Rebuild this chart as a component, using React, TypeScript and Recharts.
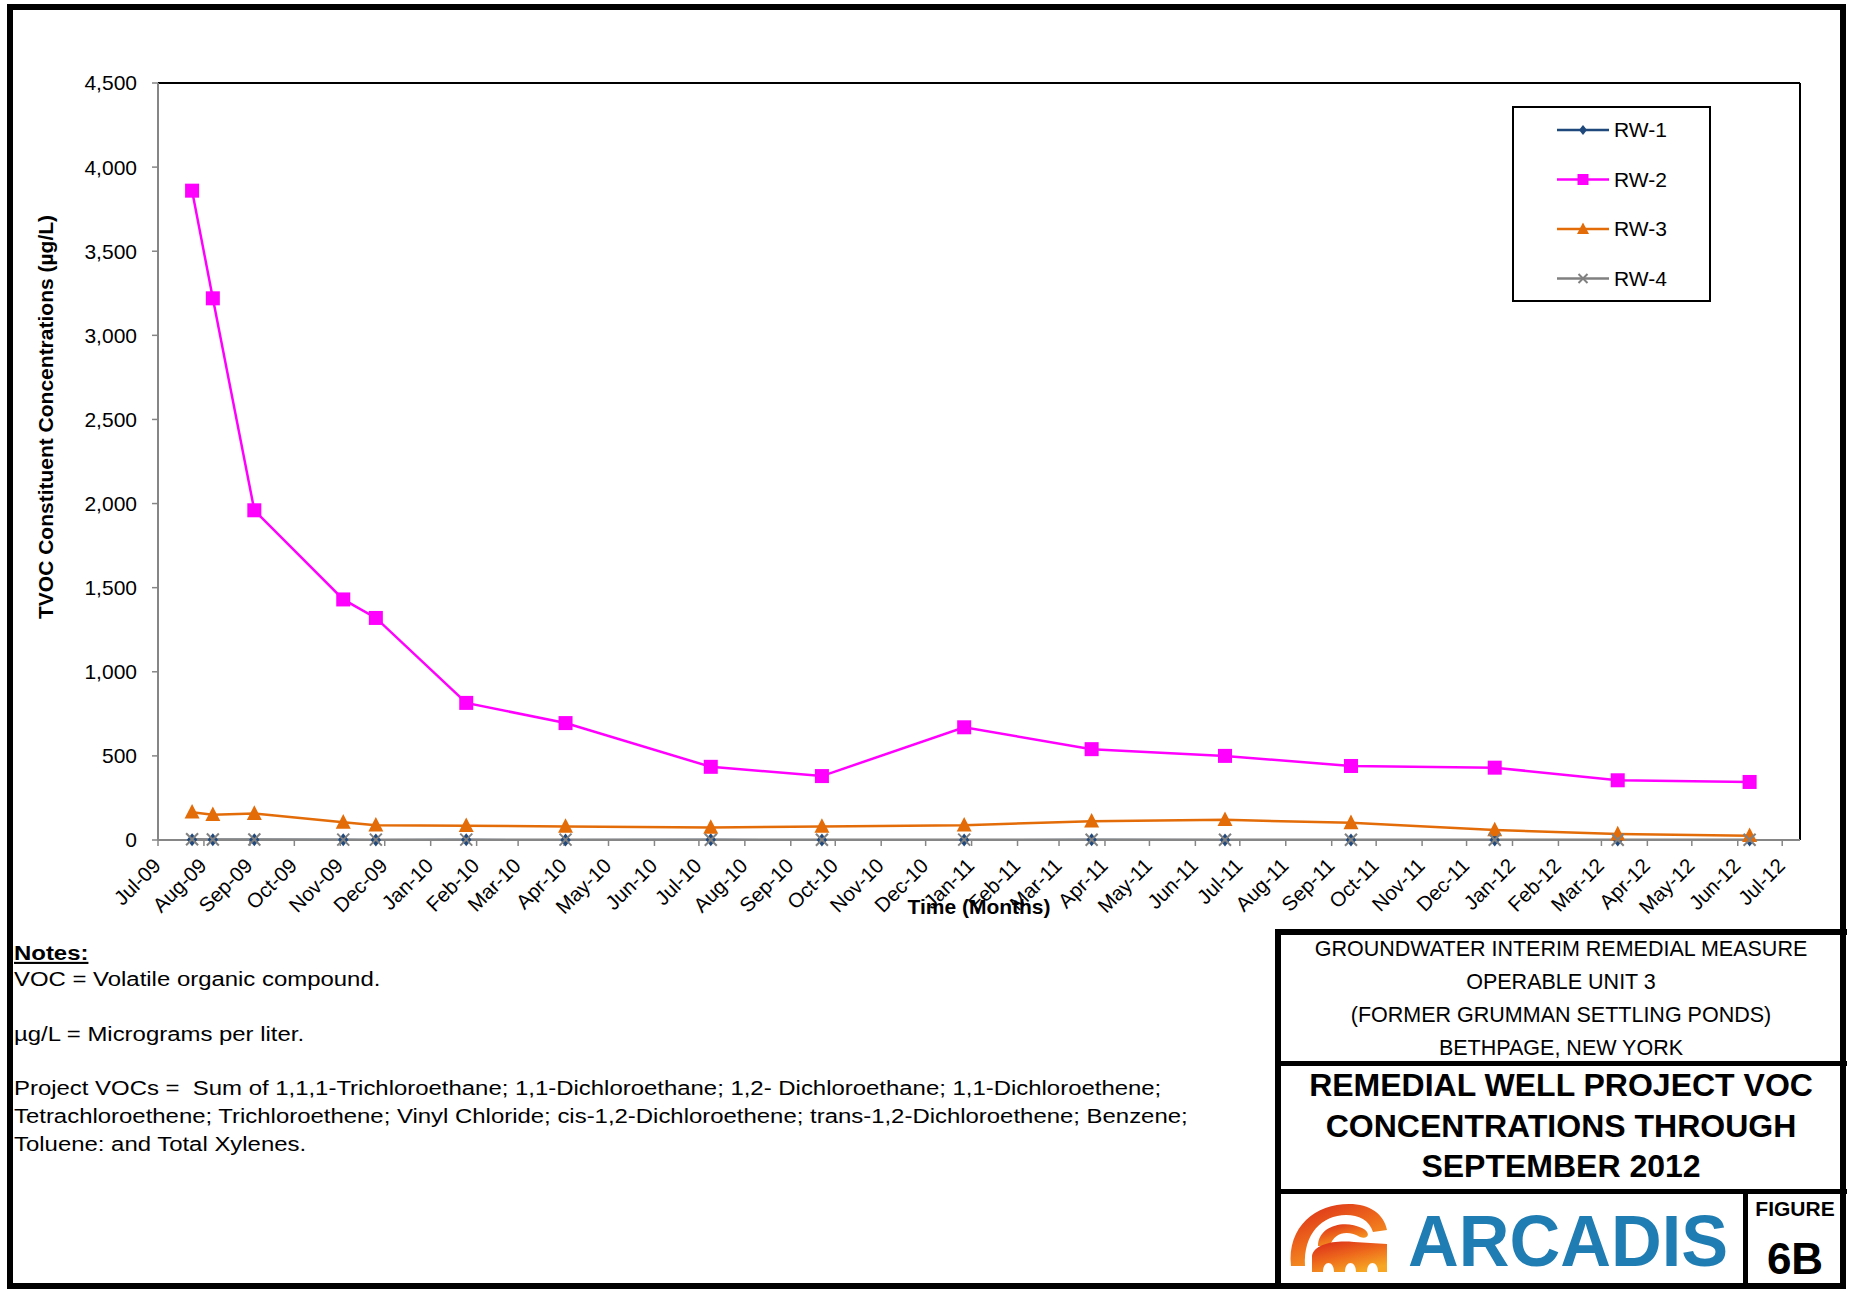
import React from 'react';
import { LineChart, Line, XAxis, YAxis, ReferenceLine } from 'recharts';

// tick labels of the date axis (one per month start)
const monthLabels = [
  'Jul-09', 'Aug-09', 'Sep-09', 'Oct-09', 'Nov-09', 'Dec-09',
  'Jan-10', 'Feb-10', 'Mar-10', 'Apr-10', 'May-10', 'Jun-10',
  'Jul-10', 'Aug-10', 'Sep-10', 'Oct-10', 'Nov-10', 'Dec-10',
  'Jan-11', 'Feb-11', 'Mar-11', 'Apr-11', 'May-11', 'Jun-11',
  'Jul-11', 'Aug-11', 'Sep-11', 'Oct-11', 'Nov-11', 'Dec-11',
  'Jan-12', 'Feb-12', 'Mar-12', 'Apr-12', 'May-12', 'Jun-12', 'Jul-12',
];

// sampling events
const sampleDates = [
  '2009-07-24', '2009-08-07', '2009-09-04', '2009-11-03', '2009-11-25',
  '2010-01-25', '2010-04-02', '2010-07-09', '2010-09-22', '2010-12-27',
  '2011-03-23', '2011-06-21', '2011-09-14', '2011-12-20', '2012-03-12', '2012-06-09',
];

// TVOC (ug/L) per recovery well
const rw1 = [2, 1, 1, 1, 0, 1, 0, 1, 0, 0, 1, 0, 0, 0, 0, 0];
const rw2 = [3860, 3220, 1960, 1430, 1320, 815, 695, 435, 380, 670, 540, 500, 440, 430, 355, 345];
const rw3 = [165, 150, 157, 105, 88, 85, 80, 75, 80, 88, 112, 120, 102, 60, 35, 25];
const rw4 = [4, 3, 3, 2, 2, 2, 2, 1, 1, 2, 1, 1, 1, 1, 1, 1];

const yTicks = [0, 500, 1000, 1500, 2000, 2500, 3000, 3500, 4000, 4500];

const noteLines = [
  'VOC = Volatile organic compound.',
  'µg/L = Micrograms per liter.',
  'Project VOCs =  Sum of 1,1,1-Trichloroethane; 1,1-Dichloroethane; 1,2- Dichloroethane; 1,1-Dichloroethene;',
  'Tetrachloroethene; Trichloroethene; Vinyl Chloride; cis-1,2-Dichloroethene; trans-1,2-Dichloroethene; Benzene;',
  'Toluene: and Total Xylenes.',
];
const siteLines = [
  'GROUNDWATER INTERIM REMEDIAL MEASURE',
  'OPERABLE UNIT 3',
  '(FORMER GRUMMAN SETTLING PONDS)',
  'BETHPAGE, NEW YORK',
];
const titleLines = ['REMEDIAL WELL PROJECT VOC', 'CONCENTRATIONS THROUGH', 'SEPTEMBER 2012'];

const FONT = '"Liberation Sans", Arial, Helvetica, sans-serif';
const MONTHS = ['Jan', 'Feb', 'Mar', 'Apr', 'May', 'Jun', 'Jul', 'Aug', 'Sep', 'Oct', 'Nov', 'Dec'];

const labelToTime = (s: string) => {
  const [m, y] = s.split('-');
  return Date.UTC(2000 + Number(y), MONTHS.indexOf(m), 1);
};
const xTicks = monthLabels.map(labelToTime);
const xMin = xTicks[0];
const xMax = Date.UTC(2012, 6, 13);

const data = sampleDates.map((d, i) => ({
  t: Date.parse(d),
  rw1: rw1[i],
  rw2: rw2[i],
  rw3: rw3[i],
  rw4: rw4[i],
}));

const series = [
  { key: 'rw1', name: 'RW-1', color: '#1F497D', width: 2, shape: 'diamond', size: 13 },
  { key: 'rw2', name: 'RW-2', color: '#FF00FF', width: 2.5, shape: 'square', size: 14 },
  { key: 'rw3', name: 'RW-3', color: '#E36C09', width: 2.5, shape: 'triangle', size: 15 },
  { key: 'rw4', name: 'RW-4', color: '#808080', width: 2.5, shape: 'cross', size: 12 },
];

const Marker = ({ shape, cx, cy, size, color }: any) => {
  const h = size / 2;
  if (shape === 'square') return <rect x={cx - h} y={cy - h} width={size} height={size} fill={color} />;
  if (shape === 'triangle')
    return <polygon points={`${cx},${cy - size * 0.55} ${cx + h},${cy + size * 0.42} ${cx - h},${cy + size * 0.42}`} fill={color} />;
  if (shape === 'diamond')
    return <polygon points={`${cx},${cy - h} ${cx + h * 0.8},${cy} ${cx},${cy + h} ${cx - h * 0.8},${cy}`} fill={color} />;
  return (
    <g stroke={color} strokeWidth={2}>
      <line x1={cx - h} y1={cy - h} x2={cx + h} y2={cy + h} />
      <line x1={cx - h} y1={cy + h} x2={cx + h} y2={cy - h} />
    </g>
  );
};

const MonthTick = ({ x, y, payload }: any) => {
  const label = monthLabels[xTicks.indexOf(payload.value)] ?? '';
  const px = x + 4;
  const py = y + 19;
  return (
    <text x={px} y={py} transform={`rotate(-45, ${px}, ${py})`} textAnchor="end" fontSize={20.5} fontFamily={FONT} fill="#000">
      {label}
    </text>
  );
};

const LegendBox = () => (
  <div style={{ position: 'absolute', left: 1512, top: 106, width: 199, height: 196, border: '2px solid #000', boxSizing: 'border-box', background: '#fff' }}>
    <svg width={195} height={192}>
      {series.map((s, i) => {
        const cy = 22 + i * 49.5;
        return (
          <g key={s.key}>
            <line x1={43} x2={95} y1={cy} y2={cy} stroke={s.color} strokeWidth={2.5} />
            <Marker shape={s.shape} cx={69} cy={cy} size={s.size - 3} color={s.color} />
            <text x={100} y={cy + 7} fontSize={21} fontFamily={FONT} fill="#000">{s.name}</text>
          </g>
        );
      })}
    </svg>
  </div>
);

const Logo = () => (
  <g>
    <defs>
      <linearGradient id="arcGrad" x1="0" y1="0" x2="0.6" y2="1">
        <stop offset="0" stopColor="#D9281A" />
        <stop offset="0.55" stopColor="#EE6A1C" />
        <stop offset="1" stopColor="#F6A623" />
      </linearGradient>
    </defs>
    <path d="M1291,1266 C1287,1226 1316,1204 1349,1204 C1370,1204 1384,1214 1387,1230 L1373,1232 C1369,1220 1359,1215 1346,1215 C1322,1215 1303,1234 1305,1266 Z" fill="url(#arcGrad)" />
    <path d="M1318,1246 C1318,1226 1344,1219 1362,1228 C1372,1233 1368,1240 1360,1237 C1348,1230 1334,1232 1330,1246 Z" fill="url(#arcGrad)" />
    <path d="M1312,1272 L1312,1256 C1314,1244 1334,1240 1354,1242 L1387,1244 L1387,1272 L1378,1272 C1378,1260 1367,1260 1367,1272 L1356,1272 C1356,1260 1345,1260 1345,1272 L1334,1272 C1334,1260 1323,1260 1323,1272 Z" fill="url(#arcGrad)" />
  </g>
);

const Overlay = () => (
  <svg width={1850} height={1291} style={{ position: 'absolute', left: 0, top: 0, pointerEvents: 'none' }} fontFamily={FONT}>
    {/* axis titles */}
    <text x={45} y={417} transform="rotate(-90, 45, 417)" textAnchor="middle" dominantBaseline="central" fontSize={21} fontWeight="bold">
      TVOC Constituent Concentrations (µg/L)
    </text>
    <text x={979} y={914} textAnchor="middle" fontSize={21} fontWeight="bold">Time (Months)</text>

    {/* notes (source text is drawn a little wide) */}
    <g transform="translate(14,0) scale(1.14,1)">
      <text x={0} y={960} fontSize={21} fontWeight="bold" textDecoration="underline">Notes:</text>
      {noteLines.map((t, i) => (
        <text key={i} x={0} y={[986, 1041, 1095, 1123, 1151][i]} fontSize={21} style={{ whiteSpace: 'pre' }}>{t}</text>
      ))}
    </g>

    {/* title block */}
    <rect x={1275} y={929} width={572} height={6} fill="#000" />
    <rect x={1275} y={929} width={6} height={360} fill="#000" />
    <rect x={1275} y={1061} width={572} height={5} fill="#000" />
    <rect x={1275} y={1189} width={572} height={5} fill="#000" />
    <rect x={1743} y={1189} width={5} height={100} fill="#000" />
    {siteLines.map((t, i) => (
      <text key={t} x={1561} y={956 + i * 33} textAnchor="middle" fontSize={21.5}>{t}</text>
    ))}
    {titleLines.map((t, i) => (
      <text key={t} x={1561} y={1096 + i * 40.5} textAnchor="middle" fontSize={32} fontWeight="bold">{t}</text>
    ))}
    <Logo />
    <text x={1408} y={1266} fontSize={72} fontWeight="bold" fill="#1F7DB4" textLength={320} lengthAdjust="spacingAndGlyphs">ARCADIS</text>
    <text x={1795} y={1216} textAnchor="middle" fontSize={21} fontWeight="bold">FIGURE</text>
    <text x={1795} y={1274} textAnchor="middle" fontSize={44} fontWeight="bold">6B</text>
  </svg>
);

export default function App() {
  return (
    <div style={{ position: 'absolute', left: 0, top: 0, width: 1850, height: 1291, background: '#fff', fontFamily: FONT, overflow: 'hidden' }}>
      <div style={{ position: 'absolute', left: 7, top: 4, width: 1839, height: 1285, border: '6px solid #000', boxSizing: 'border-box' }} />
      <div style={{ position: 'absolute', left: 0, top: 0 }}>
        <LineChart width={1850} height={930} data={data} margin={{ top: 83, right: 50, bottom: 10, left: 0 }}>
          <XAxis
            dataKey="t"
            type="number"
            domain={[xMin, xMax]}
            ticks={xTicks}
            interval={0}
            height={80}
            tickSize={6}
            tickMargin={2}
            tick={(p: any) => <MonthTick {...p} />}
            axisLine={{ stroke: '#868686', strokeWidth: 2 }}
            tickLine={{ stroke: '#868686', strokeWidth: 1.5 }}
            allowDataOverflow
          />
          <YAxis
            type="number"
            domain={[0, 4500]}
            ticks={yTicks}
            interval={0}
            width={158}
            tickSize={6}
            tickMargin={15}
            tickFormatter={(v: number) => v.toLocaleString('en-US')}
            tick={{ fill: '#000', fontSize: 21, fontFamily: FONT }}
            axisLine={{ stroke: '#868686', strokeWidth: 2 }}
            tickLine={{ stroke: '#868686', strokeWidth: 1.5 }}
          />
          <ReferenceLine y={4500} stroke="#000" strokeWidth={2} />
          <ReferenceLine x={xMax} stroke="#000" strokeWidth={2} />
          {series.map((s) => (
            <Line
              key={s.key}
              type="linear"
              dataKey={s.key}
              name={s.name}
              stroke={s.color}
              strokeWidth={s.width}
              isAnimationActive={false}
              activeDot={false}
              dot={(p: any) => <Marker key={`${s.key}-${p.index}`} shape={s.shape} cx={p.cx} cy={p.cy} size={s.size} color={s.color} />}
            />
          ))}
        </LineChart>
      </div>
      <LegendBox />
      <Overlay />
    </div>
  );
}
